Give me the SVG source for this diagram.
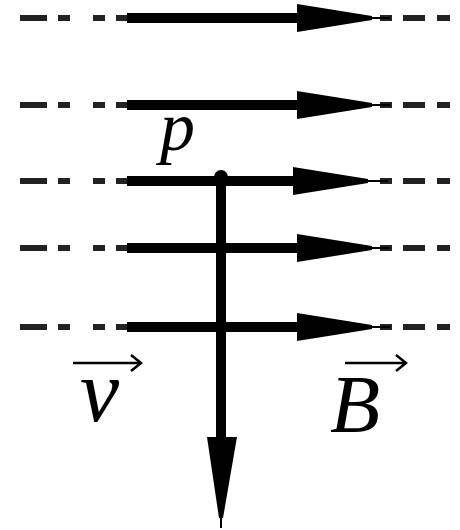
<svg xmlns="http://www.w3.org/2000/svg" width="460" height="530" viewBox="0 0 460 530">
<defs>
<style>
.dash{stroke:#222;stroke-width:6;fill:none}
.shaft{stroke:#000;stroke-width:10;fill:none}
.head{fill:#000}
.thin{stroke:#000;stroke-width:2;fill:none}
.lbl{font-family:"Liberation Serif",serif;font-style:italic;fill:#000}
.vec{stroke:#000;stroke-width:2.5;fill:none}
</style>
<path id="dashes" class="dash" d="M20 0H47M58 0H70M93 0H105M116 0H128M380 0H392M403 0H425M437 0H450"/>
<g id="arrowR">
<path class="shaft" d="M127 0H300"/>
<polygon class="head" points="297,-14 372,-2 372,2 297,14"/>
<path class="thin" d="M370 0H390"/>
</g>
</defs>
<g id="connectors">
<g id="B1" transform="translate(0,18)"><use href="#dashes"/><use href="#arrowR"/></g>
<g id="B2" transform="translate(0,105)"><use href="#dashes"/><use href="#arrowR"/></g>
<g id="B3" transform="translate(0,181)"><use href="#dashes"/><path class="shaft" d="M127 0H296"/><polygon class="head" points="293,-14 368,-2 368,2 293,14"/><path class="thin" d="M366 0H388"/></g>
<g id="B4" transform="translate(0,248)"><use href="#dashes"/><use href="#arrowR"/></g>
<g id="B5" transform="translate(0,327)"><use href="#dashes"/><use href="#arrowR"/></g>
<g id="velocity">
<path class="shaft" d="M221 176V445"/>
<polygon class="head" points="207,437 237,437 223,518 219,518"/>
<path class="thin" d="M221 510V528"/>
</g>
</g>
<g id="particle">
<circle cx="221" cy="177" r="7" fill="#000"/>
<text class="lbl" x="160" y="150" font-size="70" font-weight="300">p</text>
</g>
<g id="label-v">
<path class="vec" d="M73 363H141M131 355L141 363L131 371"/>
<text class="lbl" x="80" y="421" font-size="88">v</text>
</g>
<g id="label-B">
<path class="vec" d="M345 363H406M396 355L406 363L396 371"/>
<text class="lbl" x="330" y="432" font-size="82">B</text>
</g>
</svg>
